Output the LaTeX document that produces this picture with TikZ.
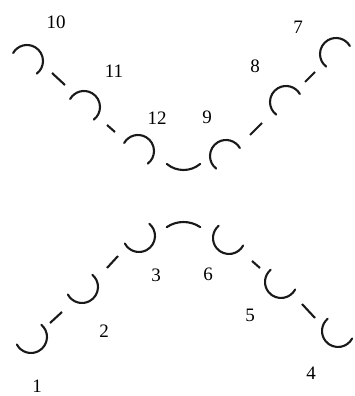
\documentclass[tikz,border=0pt]{standalone}
\usepackage{fontspec}
\setmainfont{Liberation Serif}
\begin{document}
\begin{tikzpicture}[x=1pt,y=1pt,
  ring/.style={line width=2.1pt,line cap=round,draw=black!90},
  link/.style={line width=2.1pt,draw=black!90},
  num/.style={inner sep=0pt,font=\fontsize{19}{19}\selectfont}]
\useasboundingbox (0,0) rectangle (355,396);
% arc centres
\coordinate (c10) at (27,335);
\coordinate (c11) at (84,289);
\coordinate (c12) at (138,245);
\coordinate (c9) at (226,240);
\coordinate (c8) at (286,294);
\coordinate (c7) at (336,342);
\coordinate (c1) at (31,59);
\coordinate (c2) at (82,109);
\coordinate (c3) at (139,160);
\coordinate (c6) at (229,158);
\coordinate (c5) at (281,114);
\coordinate (c4) at (338,65);
\coordinate (ct) at (183.5,252);
\coordinate (cb) at (183.5,144);
% upper-left arcs
\foreach \c in {c10,c11,c12}
  \draw[ring] ([shift={(150:16)}]\c) arc[start angle=150,end angle=-52,radius=16];
% upper-right arcs
\foreach \c in {c9,c8,c7}
  \draw[ring] ([shift={(30:16)}]\c) arc[start angle=30,end angle=232,radius=16];
% lower-left arcs
\foreach \c in {c1,c2,c3}
  \draw[ring] ([shift={(208:16)}]\c) arc[start angle=208,end angle=410,radius=16];
% lower-right arcs
\foreach \c in {c6,c5,c4}
  \draw[ring] ([shift={(130:16)}]\c) arc[start angle=130,end angle=332,radius=16];
% middle arcs
\draw[ring] ([shift={(230:26)}]ct) arc[start angle=230,end angle=310,radius=26];
\draw[ring] ([shift={(56:30)}]cb) arc[start angle=56,end angle=124,radius=30];
% dash ends
\coordinate (d10a) at (52,323); \coordinate (d10b) at (65,311);
\coordinate (d11a) at (107,271); \coordinate (d11b) at (115,264);
\coordinate (d9a) at (250,261); \coordinate (d9b) at (262,273);
\coordinate (d8a) at (305,314); \coordinate (d8b) at (315,324);
\coordinate (d1a) at (50,73); \coordinate (d1b) at (62,84);
\coordinate (d2a) at (107,128); \coordinate (d2b) at (118,140);
\coordinate (d6a) at (252,135); \coordinate (d6b) at (260,128);
\coordinate (d5a) at (302,92); \coordinate (d5b) at (315,78);
\draw[link] (d10a) -- (d10b);
\draw[link] (d11a) -- (d11b);
\draw[link] (d9a) -- (d9b);
\draw[link] (d8a) -- (d8b);
\draw[link] (d1a) -- (d1b);
\draw[link] (d2a) -- (d2b);
\draw[link] (d6a) -- (d6b);
\draw[link] (d5a) -- (d5b);
% labels
\node[num] (l10) at (56,374) {10};
\node[num] (l11) at (114,325) {11};
\node[num] (l12) at (157,278) {12};
\node[num] (l9) at (207,279) {9};
\node[num] (l8) at (255,330) {8};
\node[num] (l7) at (298,369) {7};
\node[num] (l1) at (37,10) {1};
\node[num] (l2) at (104,65) {2};
\node[num] (l3) at (156,121) {3};
\node[num] (l6) at (208,122) {6};
\node[num] (l5) at (250,81) {5};
\node[num] (l4) at (311,23) {4};
\end{tikzpicture}
\end{document}
